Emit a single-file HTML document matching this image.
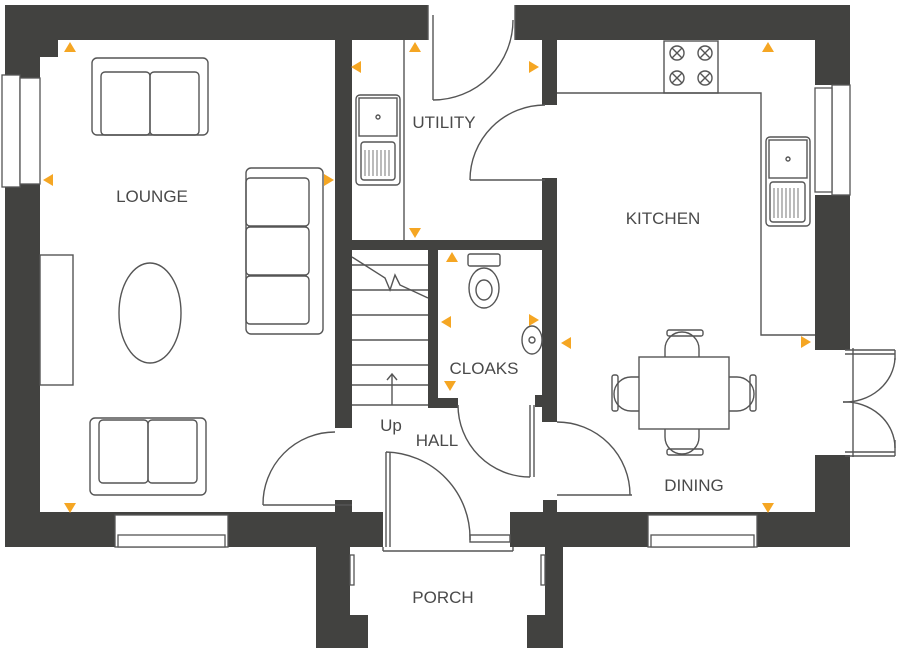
<!DOCTYPE html><html><head><style>body{margin:0;background:#fff}svg{display:block}text{font-family:"Liberation Sans",sans-serif;fill:#4a4a4a;font-size:17px;text-anchor:middle}</style></head><body>
<svg width="897" height="650" viewBox="0 0 897 650" xmlns="http://www.w3.org/2000/svg">
<g fill="#424240">
<rect x="5" y="5" width="423" height="35"/><rect x="515" y="5" width="335" height="35"/>
<rect x="5" y="5" width="35" height="542"/><rect x="40" y="40" width="18" height="17"/>
<rect x="815" y="5" width="35" height="80"/><rect x="815" y="195" width="35" height="155"/><rect x="815" y="455" width="35" height="92"/>
<rect x="5" y="512" width="378" height="35"/><rect x="510" y="512" width="340" height="35"/>
<rect x="316" y="512" width="34" height="136"/><rect x="316" y="615" width="52" height="33"/>
<rect x="545" y="512" width="18" height="136"/><rect x="527" y="615" width="36" height="33"/><rect x="510" y="512" width="53" height="35"/>
<rect x="335" y="40" width="17" height="388"/><rect x="335" y="500" width="17" height="12"/>
<rect x="352" y="240" width="203" height="10"/>
<rect x="428" y="250" width="10" height="155"/><rect x="428" y="398" width="30" height="10"/>
<rect x="542" y="38" width="15" height="67"/><rect x="542" y="178" width="15" height="244"/><rect x="543" y="500" width="14" height="12"/>
<rect x="535" y="395" width="10" height="12"/>
</g>
<g fill="#fff" stroke="#555" stroke-width="1.3">
<rect x="2" y="75" width="18" height="112"/><rect x="20" y="78" width="20" height="106"/>
<rect x="832" y="85" width="18" height="110"/><rect x="815" y="88" width="17" height="104"/>
<rect x="115" y="515" width="113" height="32"/><rect x="118" y="535" width="107" height="12"/>
<rect x="648" y="515" width="109" height="32"/><rect x="651" y="535" width="103" height="12"/>
<rect x="428" y="0" width="87" height="8" stroke="none"/>
<rect x="350" y="555" width="4" height="30"/><rect x="541" y="555" width="4" height="30"/>
</g>
<g fill="none" stroke="#555" stroke-width="1.4">
<line x1="428" y1="5" x2="428" y2="40"/><line x1="515" y1="5" x2="515" y2="40"/>
<line x1="433" y1="15" x2="433" y2="100"/><path d="M433 100 A80 80 0 0 0 513 20"/>
<path d="M470 180 A75 75 0 0 1 545 105"/><line x1="470" y1="180" x2="545" y2="180"/>
<line x1="404" y1="40" x2="404" y2="240"/>
<rect x="40" y="255" width="33" height="130"/>
<rect x="92" y="58" width="116" height="77" rx="5"/><rect x="101" y="72" width="49" height="63" rx="4"/><rect x="150" y="72" width="49" height="63" rx="4"/>
<rect x="246" y="168" width="77" height="166" rx="5"/><rect x="246" y="178" width="63" height="48" rx="4"/><rect x="246" y="227" width="63" height="48" rx="4"/><rect x="246" y="276" width="63" height="48" rx="4"/>
<ellipse cx="150" cy="313" rx="31" ry="50"/>
<rect x="90" y="418" width="116" height="77" rx="5"/><rect x="99" y="420" width="49" height="63" rx="4"/><rect x="148" y="420" width="49" height="63" rx="4"/>
<rect x="356" y="95" width="44" height="90" rx="4"/><rect x="359" y="98" width="38" height="38"/><rect x="361" y="142" width="34" height="38" rx="3"/><circle cx="378" cy="117" r="2"/>
<path d="M365 150v26M369 150v26M373 150v26M377 150v26M381 150v26M385 150v26M389 150v26" stroke-width="0.8"/>
<line x1="352" y1="265" x2="428" y2="265"/><line x1="352" y1="290" x2="428" y2="290"/><line x1="352" y1="315" x2="428" y2="315"/><line x1="352" y1="340" x2="428" y2="340"/><line x1="352" y1="365" x2="428" y2="365"/><line x1="352" y1="385" x2="428" y2="385"/><line x1="352" y1="405" x2="428" y2="405"/>
<path d="M352 257 L385 278 L390 290 L395 275 L400 285 L428 298"/>
<line x1="392" y1="405" x2="392" y2="374"/><path d="M387 380 L392 374 L397 380"/>
<rect x="468" y="254" width="32" height="12" rx="2"/><ellipse cx="484" cy="288" rx="15" ry="20"/><ellipse cx="484" cy="290" rx="8" ry="10"/>
<ellipse cx="532" cy="340" rx="10" ry="14"/><circle cx="532" cy="340" r="3"/>
<path d="M263 505 A72 72 0 0 1 335 432"/><line x1="263" y1="505" x2="352" y2="505"/>
<path d="M458 405 A72 72 0 0 0 530 477"/><line x1="530" y1="405" x2="530" y2="477"/><line x1="534" y1="405" x2="534" y2="477"/>
<path d="M386 452 A86 86 0 0 1 470 540"/><line x1="386" y1="452" x2="386" y2="547"/><line x1="390" y1="452" x2="390" y2="547"/>
<line x1="383" y1="551" x2="513" y2="551"/><line x1="383" y1="547" x2="383" y2="551"/><line x1="513" y1="547" x2="513" y2="551"/><rect x="470" y="535" width="40" height="7"/>
<path d="M557 422 A73 73 0 0 1 630 495"/><line x1="557" y1="495" x2="632" y2="495"/>
<line x1="853" y1="348" x2="853" y2="457"/>
<line x1="845" y1="350" x2="895" y2="350"/><line x1="845" y1="354" x2="895" y2="354"/><line x1="895" y1="350" x2="895" y2="360"/>
<path d="M895 358 A50 46 0 0 1 843 402"/>
<path d="M843 402 A50 46 0 0 1 895 448"/>
<line x1="845" y1="452" x2="895" y2="452"/><line x1="845" y1="456" x2="895" y2="456"/><line x1="895" y1="440" x2="895" y2="456"/>
<polyline points="557,93 761,93 761,335 815,335"/>
<rect x="664" y="41" width="54" height="52"/>
<g><circle cx="677" cy="53" r="7"/><circle cx="705" cy="53" r="7"/><circle cx="677" cy="78" r="7"/><circle cx="705" cy="78" r="7"/>
<path d="M672 48l10 10M682 48l-10 10M700 48l10 10M710 48l-10 10M672 73l10 10M682 73l-10 10M700 73l10 10M710 73l-10 10"/></g>
<rect x="766" y="137" width="44" height="89" rx="4"/><rect x="769" y="140" width="38" height="38"/><rect x="770" y="182" width="35" height="40" rx="3"/><circle cx="788" cy="159" r="2"/>
<path d="M774 188v30M778 188v30M782 188v30M786 188v30M790 188v30M794 188v30M798 188v30" stroke-width="0.8"/>
<rect x="639" y="357" width="90" height="72"/>
<path d="M665 357 v-8 a12 12 0 0 1 34 0 v8"/><rect x="667" y="330" width="36" height="6" rx="2"/>
<path d="M665 429 v8 a12 12 0 0 0 34 0 v-8"/><rect x="667" y="449" width="36" height="6" rx="2"/>
<path d="M639 377 h-8 a14 14 0 0 0 0 34 h8"/><rect x="612" y="375" width="6" height="36" rx="2"/>
<path d="M729 377 h8 a14 14 0 0 1 0 34 h-8"/><rect x="750" y="375" width="6" height="36" rx="2"/>
</g>
<g fill="#f5a623">
<path d="M64 52h12l-6-10z"/><path d="M409 52h12l-6-10z"/><path d="M762 52h12l-6-10z"/><path d="M446 262h12l-6-10z"/>
<path d="M361 61v12l-10-6z"/><path d="M53 174v12l-10-6z"/><path d="M451 316v12l-10-6z"/><path d="M571 337v12l-10-6z"/>
<path d="M529 61v12l10-6z"/><path d="M324 174v12l10-6z"/><path d="M529 314v12l10-6z"/><path d="M801 336v12l10-6z"/>
<path d="M409 228h12l-6 10z"/><path d="M444 381h12l-6 10z"/><path d="M64 503h12l-6 10z"/><path d="M762 503h12l-6 10z"/>
</g>
<text x="152" y="202">LOUNGE</text><text x="444" y="128">UTILITY</text><text x="663" y="224">KITCHEN</text>
<text x="484" y="374" font-size="15">CLOAKS</text><text x="437" y="446">HALL</text><text x="391" y="431" font-size="15">Up</text>
<text x="694" y="491">DINING</text><text x="443" y="603">PORCH</text>
</svg></body></html>
